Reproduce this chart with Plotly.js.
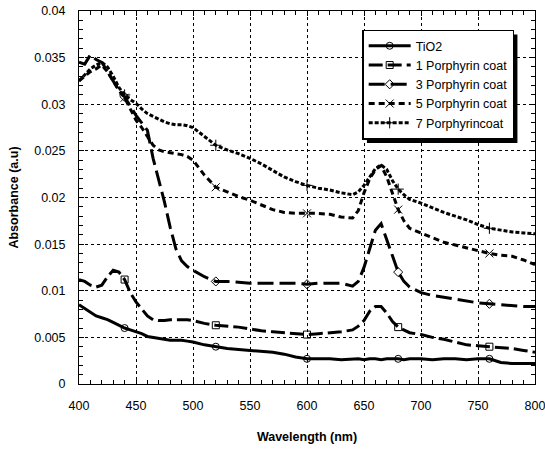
<!DOCTYPE html>
<html><head><meta charset="utf-8">
<script src="https://cdn.plot.ly/plotly-3.0.1.min.js"></script>
<style>html,body{margin:0;padding:0;background:#fff}#chart{width:545px;height:453px}</style>
</head><body><div id="chart"></div>
<script>
const wavelength = [400,405,410,415,420,425,430,435,440,445,450,455,460,465,470,475,480,485,490,495,500,
  510,520,530,540,550,560,570,580,590,600,610,620,630,640,
  645,650,655,660,665,670,675,680,685,690,
  700,710,720,730,740,750,760,770,780,790,800];
const tio2 = [.0085,.0081,.0077,.0073,.0071,.0069,.0066,.0063,.0060,.0058,.0056,.0054,.0051,.0050,.0049,.0048,.0047,.0047,.0047,.0046,.0045,
  .0042,.0040,.0038,.0037,.0036,.0035,.0034,.0032,.0029,.0027,.0027,.0027,.0026,.0027,
  .0027,.0026,.0027,.0027,.0026,.0027,.0027,.0027,.0026,.0027,
  .0027,.0026,.0027,.0027,.0026,.0027,.0027,.0023,.0022,.0022,.0022];
const porph1 = [.0112,.0110,.0106,.0104,.0106,.0115,.0122,.0120,.0112,.0098,.0088,.0080,.0073,.0069,.0068,.0068,.0069,.0069,.0069,.0069,.0068,
  .0065,.0063,.0062,.0061,.0059,.0057,.0056,.0055,.0054,.0053,.0054,.0055,.0056,.0058,
  .0062,.0068,.0078,.0083,.0083,.0076,.0067,.0061,.0058,.0055,
  .0053,.0050,.0048,.0045,.0042,.0041,.0040,.0039,.0038,.0036,.0034];
const porph3 = [.0345,.0343,.0353,.0348,.0345,.0335,.0325,.0315,.0308,.0298,.0288,.0280,.0272,.0242,.0220,.0195,.0168,.0145,.0132,.0126,.0122,
  .0115,.0110,.0110,.0109,.0108,.0108,.0108,.0108,.0108,.0107,.0108,.0108,.0108,.0105,
  .0110,.0125,.0145,.0165,.0172,.0155,.0137,.0120,.0110,.0104,
  .0098,.0095,.0093,.0091,.0089,.0087,.0086,.0085,.0084,.0083,.0083];
const porph5 = [.0325,.0330,.0335,.0338,.0342,.0335,.0325,.0315,.0307,.0295,.0283,.0275,.0265,.0256,.0251,.0249,.0248,.0247,.0246,.0244,.0240,
  .0224,.0211,.0206,.0201,.0197,.0192,.0187,.0184,.0183,.0183,.0183,.0182,.0179,.0178,
  .0186,.0205,.0220,.0230,.0234,.0222,.0205,.0187,.0175,.0167,
  .0162,.0157,.0152,.0149,.0146,.0143,.0140,.0138,.0137,.0133,.0128];
const porph7 = [.0325,.0332,.0338,.0342,.0345,.0340,.0330,.0318,.0310,.0305,.0301,.0295,.0290,.0287,.0284,.0281,.0279,.0278,.0278,.0277,.0275,
  .0265,.0256,.0251,.0247,.0242,.0236,.0229,.0222,.0217,.0213,.0210,.0208,.0205,.0203,
  .0206,.0213,.0222,.0231,.0235,.0230,.0218,.0209,.0203,.0198,
  .0194,.0189,.0184,.0180,.0176,.0171,.0167,.0165,.0163,.0162,.0161];
const markerWavelengths = [440,520,600,680,760];
const seriesNames = ['TiO2','1 Porphyrin coat','3 Porphyrin coat','5 Porphyrin coat','7 Porphyrincoat'];
const xTickVals = [400,450,500,550,600,650,700,750,800];
const yTickVals = [0,0.005,0.01,0.015,0.02,0.025,0.03,0.035,0.04];
const yTickText = ['0','0.005','0.01','0.015','0.02','0.025','0.03','0.035','0.04'];

const seriesValues = [tio2, porph1, porph3, porph5, porph7];
const dashes = ['solid','14px,5px','16px,6px','6px,4px','4px,2px'];
const symbols = ['circle-open','square-open','diamond-open','x-thin-open','cross-thin-open'];
const msizes = [7,7,7,8,8];

const traces = [];
seriesValues.forEach((vals, i) => {
  traces.push({x: wavelength, y: vals, type: 'scatter', mode: 'lines', name: seriesNames[i],
    legendgroup: 'g' + i, showlegend: false, hoverinfo: 'skip',
    line: {color: '#000', width: 3, dash: dashes[i]}});
});
seriesValues.forEach((vals, i) => {
  const mx = [], my = [];
  markerWavelengths.forEach(w => {
    const k = wavelength.indexOf(w);
    mx.push(w, null); my.push(vals[k], null);
  });
  traces.push({x: mx, y: my, type: 'scatter', mode: 'lines+markers', name: seriesNames[i],
    legendgroup: 'g' + i, showlegend: true, connectgaps: false,
    line: {color: '#000', width: 3, dash: dashes[i]},
    marker: {symbol: symbols[i], size: msizes[i], color: '#000', line: {color: '#000', width: 1}}});
});

const M = {l: 79, r: 10, t: 11, b: 69};
const W = 545, H = 453;
const axisFont = {family: 'Liberation Sans, Arial, sans-serif', size: 12.5, color: '#000'};
const layout = {
  width: W, height: H,
  margin: {l: M.l, r: M.r, t: M.t, b: M.b, pad: 0},
  paper_bgcolor: '#fff', plot_bgcolor: '#fff',
  showlegend: true,
  font: {family: 'Liberation Sans, Arial, sans-serif', color: '#000'},
  xaxis: {range: [400, 800], tickvals: xTickVals, ticktext: xTickVals.map(String),
    showline: true, linecolor: '#000', linewidth: 1, mirror: 'ticks',
    ticks: 'inside', ticklen: 5, tickcolor: '#000', ticklabeloverflow: 'allow',
    minor: {dtick: 10, tick0: 400, ticks: 'inside', ticklen: 4, tickcolor: '#000', showgrid: false},
    showgrid: true, gridcolor: '#000', gridwidth: 1, griddash: 'dot', zeroline: false,
    tickfont: axisFont, ticklabelstandoff: 10,
    title: {text: 'Wavelength (nm)', font: {size: 12.5, weight: 'bold', color: '#000'}, standoff: 20}},
  yaxis: {range: [0, 0.04], tickvals: yTickVals, ticktext: yTickText,
    showline: true, linecolor: '#000', linewidth: 1, mirror: 'ticks',
    ticks: 'inside', ticklen: 5, tickcolor: '#000', ticklabeloverflow: 'allow',
    minor: {dtick: 0.001, tick0: 0, ticks: 'inside', ticklen: 4, tickcolor: '#000', showgrid: false},
    showgrid: true, gridcolor: '#000', gridwidth: 1, griddash: 'dot', zeroline: false,
    tickfont: axisFont, ticklabelstandoff: 10,
    title: {text: 'Absorbance (a.u)', font: {size: 12.5, weight: 'bold', color: '#000'}, standoff: 12}},
  legend: {x: 0.621, y: 0.95, xanchor: 'left', yanchor: 'top', bgcolor: '#fff',
    bordercolor: '#000', borderwidth: 1.5, font: {size: 12.5, color: '#000'}, tracegroupgap: 0,
    itemwidth: 42}
};
Plotly.newPlot('chart', traces, layout, {staticPlot: true, displayModeBar: false}).then(gd => {
  const bg = gd.querySelector('.legend .bg');
  if (!bg) return;
  const r = bg.getBoundingClientRect();
  const c = gd.getBoundingClientRect();
  const pw = W - M.l - M.r, ph = H - M.t - M.b;
  const toX = px => (px - c.left - M.l) / pw;
  const toY = py => (H - M.b - (py - c.top)) / ph;
  const off = 4;
  return Plotly.relayout(gd, {shapes: [{type: 'rect', xref: 'paper', yref: 'paper', layer: 'above',
    x0: toX(r.left + off), x1: toX(r.right + off), y0: toY(r.bottom + off), y1: toY(r.top + off),
    fillcolor: '#000', line: {width: 0}}]});
});
</script></body></html>
